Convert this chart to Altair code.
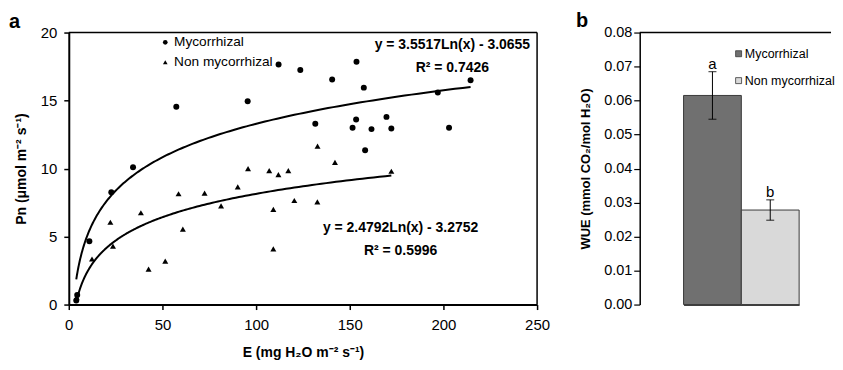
import altair as alt
import pandas as pd

# ---------------- data: panel a ----------------
series_names = ["Mycorrhizal", "Non mycorrhizal"]
myc_E = [4.0, 4.5, 11.0, 22.7, 34.3, 57.4, 95.5, 112.0, 123.6, 131.6, 140.6,
         151.5, 153.4, 153.6, 157.5, 158.2, 161.6, 169.6, 172.2, 197.0, 203.0, 214.5]
myc_Pn = [0.3, 0.7, 4.65, 8.25, 10.1, 14.55, 14.95, 17.65, 17.25, 13.3, 16.55,
          13.0, 13.6, 17.85, 15.95, 11.35, 12.9, 13.8, 12.95, 15.6, 13.0, 16.5]
non_E = [4.2, 12.4, 22.2, 23.6, 38.5, 42.6, 51.5, 58.6, 60.9, 72.5, 81.3, 90.2,
         95.7, 107.0, 109.2, 109.2, 111.9, 117.2, 120.4, 132.7, 132.8, 142.1, 172.2]
non_Pn = [0.55, 3.35, 6.05, 4.3, 6.75, 2.6, 3.2, 8.15, 5.55, 8.2, 7.25, 8.65,
          10.0, 9.85, 7.0, 4.1, 9.55, 9.85, 7.65, 7.55, 11.65, 10.45, 9.8]
# logarithmic trend lines as printed on the chart: y = slope*Ln(x) + intercept
trend_slope = [3.5517, 2.4792]
trend_intercept = [-3.0655, -3.2752]
trend_xmin = [4.0, 4.0]
trend_xmax = [214.5, 172.2]
x_ticks_a = [0, 50, 100, 150, 200, 250]
y_ticks_a = [0, 5, 10, 15, 20]
eq_text = ["y = 3.5517Ln(x) - 3.0655", "R² = 0.7426",
           "y = 2.4792Ln(x) - 3.2752", "R² = 0.5996"]

# ---------------- data: panel b ----------------
wue_mean = [0.0615, 0.0278]
wue_err = [0.0070, 0.0030]
wue_letters = ["a", "b"]
y_ticks_b = [0.00, 0.01, 0.02, 0.03, 0.04, 0.05, 0.06, 0.07, 0.08]

FONT = "Liberation Sans"
W_A, W_B, H = 470, 192, 273

pts = pd.DataFrame({
    "E": myc_E + non_E,
    "Pn": myc_Pn + non_Pn,
    "series": [series_names[0]] * len(myc_E) + [series_names[1]] * len(non_E),
})
trend_df = pd.DataFrame({"series": series_names, "slope": trend_slope,
                         "intercept": trend_intercept, "xmin": trend_xmin,
                         "xmax": trend_xmax})
one = pd.DataFrame({"k": [0]})

xs = alt.Scale(domain=[0, 250], nice=False, zero=False)
ys = alt.Scale(domain=[0, 20], nice=False)
x_axis_a = alt.Axis(
    values=x_ticks_a, title="E (mg H₂O m⁻² s⁻¹)", labelFontSize=15, titleFontSize=14,
    titleFontWeight="bold", tickSize=5, labelPadding=8, titlePadding=13,
    domainWidth=2, tickWidth=1.5, labelFlush=False, grid=False)
y_axis_a = alt.Axis(
    values=y_ticks_a, title="Pn (μmol m⁻² s⁻¹)", labelFontSize=15, titleFontSize=14,
    titleFontWeight="bold", tickSize=5, labelPadding=7, titlePadding=12,
    domainWidth=2, tickWidth=1.5, labelFlush=False, grid=False)
x_enc = alt.X("E:Q", scale=xs, axis=x_axis_a)
y_enc = alt.Y("Pn:Q", scale=ys, axis=y_axis_a)

points = alt.Chart(pts).mark_point(filled=True, opacity=1, color="black", strokeWidth=0,
                                   size=36).encode(
    x=x_enc, y=y_enc,
    shape=alt.Shape("series:N",
                    scale=alt.Scale(domain=series_names, range=["circle", "triangle-up"]),
                    legend=alt.Legend(title=None, orient="none", legendX=90, legendY=3,
                                      labelFont=FONT, labelFontSize=13.7, labelColor="black",
                                      symbolSize=22, symbolFillColor="black",
                                      symbolStrokeColor="black", symbolStrokeWidth=0,
                                      padding=0, rowPadding=5, labelOffset=2, symbolOffset=0)),
)

trend = alt.Chart(trend_df).transform_calculate(
    t="sequence(0, 201)"
).transform_flatten(["t"]).transform_calculate(
    E="datum.xmin * pow(datum.xmax / datum.xmin, datum.t / 200)"
).transform_calculate(
    Pn="datum.slope * log(datum.E) + datum.intercept"
).mark_line(color="black", strokeWidth=2).encode(
    x=x_enc, y=y_enc, detail="series:N", order="t:Q")


def label(text, x, y, size=14, weight="bold", align="center", baseline="middle"):
    return alt.Chart(one).mark_text(text=text, font=FONT, fontSize=size, fontWeight=weight,
                                    align=align, baseline=baseline, color="black").encode(
        x=alt.value(x), y=alt.value(y))


eq1 = label(eq_text[0], 385, 13)
eq2 = label(eq_text[1], 385, 36)
eq3 = label(eq_text[2], 333, 196)
eq4 = label(eq_text[3], 333, 219)
tag_a = label("a", -60, -4.5, size=20, align="left", baseline="alphabetic")

top_a = alt.Chart(one).mark_rule(color="black", strokeWidth=1.5).encode(y=alt.value(0))
right_a = alt.Chart(one).mark_rule(color="black", strokeWidth=1.5).encode(x=alt.value(W_A))

panel_a = alt.layer(points, trend, eq1, eq2, eq3, eq4, tag_a, top_a, right_a).properties(
    width=W_A, height=H)

# ---------------- panel b ----------------
bars_df = pd.DataFrame({"treatment": series_names, "wue": wue_mean, "err": wue_err,
                        "letter": wue_letters})
xb_scale = alt.Scale(domain=series_names, paddingInner=0, paddingOuter=0, range=[44, 160])
xb_axis = alt.Axis(labels=False, ticks=False, title=None, domainWidth=1.5, grid=False)
xb = alt.X("treatment:N", scale=xb_scale, axis=xb_axis)
ys_b = alt.Scale(domain=[0, 0.08], nice=False)
yb_axis = alt.Axis(
    values=y_ticks_b, format=".2f", title="WUE (mmol CO₂/mol H₂O)", labelFontSize=14.5,
    titleFontSize=13, titleFontWeight="bold", tickSize=6, labelPadding=2, titlePadding=11,
    domainWidth=1.5, tickWidth=1.2, labelOverlap=False, grid=False)

bars = alt.Chart(bars_df).mark_bar(stroke="#3a3a3a", strokeWidth=1).encode(
    x=xb, y=alt.Y("wue:Q", scale=ys_b, axis=yb_axis),
    fill=alt.Fill("treatment:N",
                  scale=alt.Scale(domain=series_names, range=["#707070", "#d9d9d9"]),
                  legend=alt.Legend(title=None, orient="none", legendX=93, legendY=15,
                                    symbolType="square", symbolSize=36,
                                    symbolStrokeColor="#3a3a3a", symbolStrokeWidth=0.8,
                                    labelFont=FONT, labelFontSize=12.5, labelColor="black",
                                    padding=0, rowPadding=14, labelOffset=0, symbolOffset=0)),
)

err_base = alt.Chart(bars_df).transform_calculate(
    lo="datum.wue - datum.err", hi="datum.wue + datum.err")
err_rule = err_base.mark_rule(color="black", strokeWidth=1).encode(
    x=xb, y=alt.Y("lo:Q", scale=ys_b, axis=yb_axis), y2="hi:Q")
err_top = err_base.mark_tick(color="black", thickness=1.2, size=8).encode(
    x=xb, y=alt.Y("hi:Q", scale=ys_b, axis=yb_axis))
err_bot = err_base.mark_tick(color="black", thickness=1.2, size=8).encode(
    x=xb, y=alt.Y("lo:Q", scale=ys_b, axis=yb_axis))
letters = err_base.mark_text(font=FONT, fontSize=15, baseline="alphabetic", dy=-3,
                             color="black").encode(
    x=xb, y=alt.Y("hi:Q", scale=ys_b, axis=yb_axis), text="letter:N")

top_b = alt.Chart(one).mark_rule(color="black", strokeWidth=1.5).encode(y=alt.value(0))
tag_b = label("b", -64, -6, size=20, align="left", baseline="alphabetic")

panel_b = alt.layer(bars, err_rule, err_top, err_bot, letters, top_b, tag_b).properties(
    width=W_B, height=H)

chart = alt.hconcat(panel_a, panel_b, spacing=26).resolve_scale(
    shape="independent", fill="independent"
).resolve_legend(
    shape="independent", fill="independent"
).properties(
    background="white",
    padding={"left": 1, "top": 2, "right": 0, "bottom": 1}
).configure_view(strokeWidth=0, stroke="transparent").configure_axis(
    labelFont=FONT, titleFont=FONT, domainColor="black", tickColor="black",
    labelColor="black", titleColor="black", grid=False
)

chart.save("out.html", embed_options={"renderer": "svg", "actions": False})
